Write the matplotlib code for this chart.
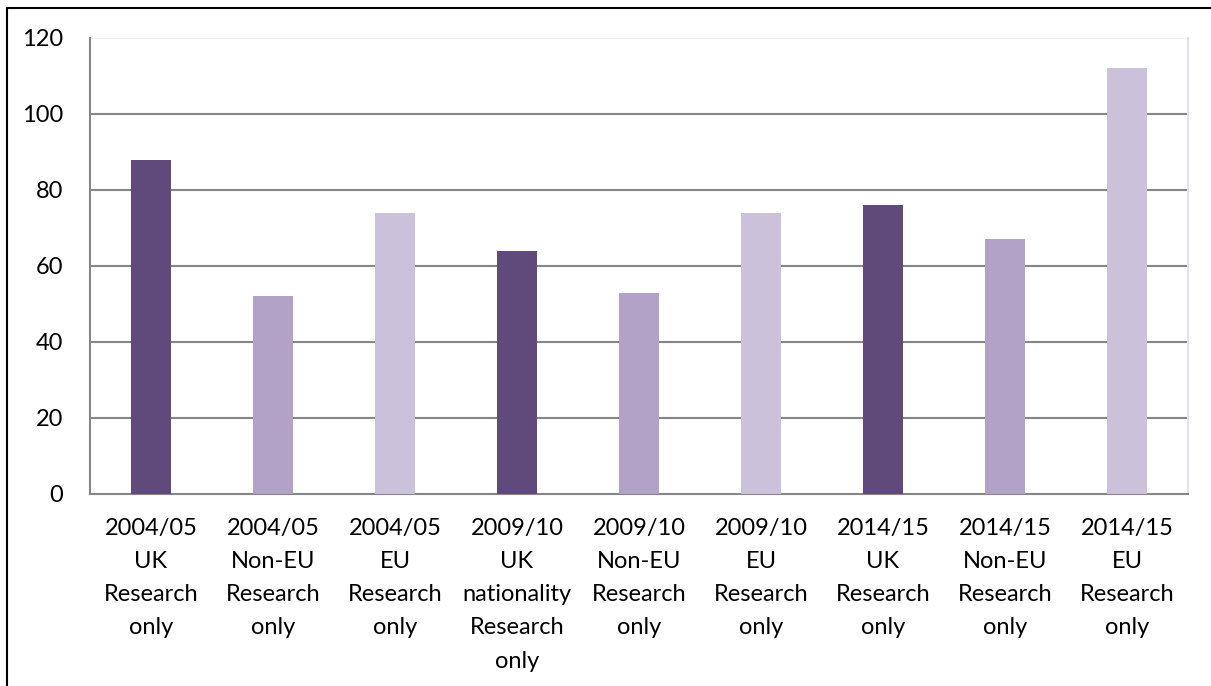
import matplotlib
matplotlib.use("Agg")
from matplotlib import pyplot as plt
from matplotlib.lines import Line2D

categories = ["2004/05\nUK\nResearch\nonly", "2004/05\nNon-EU\nResearch\nonly",
              "2004/05\nEU\nResearch\nonly", "2009/10\nUK\nnationality\nResearch\nonly",
              "2009/10\nNon-EU\nResearch\nonly", "2009/10\nEU\nResearch\nonly",
              "2014/15\nUK\nResearch\nonly", "2014/15\nNon-EU\nResearch\nonly",
              "2014/15\nEU\nResearch\nonly"]
values = [88, 52, 74, 64, 53, 74, 76, 67, 112]
yticks = [0, 20, 40, 60, 80, 100, 120]

clrs = ["#604A7B", "#B3A2C7", "#CCC1DA"] * 3

plt.rcParams['font.family'] = ['Lato', 'DejaVu Sans']

fig = plt.figure(figsize=(12.11, 6.86), dpi=100)
ax = fig.add_axes([90/1211, 1 - 494/686, (1188-90)/1211, (494-38)/686])

x = list(range(len(categories)))
ax.bar(x, values, width=0.32, color=clrs, zorder=3)

ax.set_xlim(-0.5, len(categories) - 0.5)
ax.set_ylim(0, 120)
ax.set_yticks(yticks)
ax.tick_params(axis='y', length=0, pad=19.5, labelsize=17)
ax.set_xticks(x)
ax.set_xticklabels(categories, fontsize=17, linespacing=1.72)
ax.tick_params(axis='x', length=0, pad=17)

for v in yticks[1:-1]:
    ax.axhline(v, color="#868686", lw=1.5, zorder=1)
ax.axhline(120, color="#EDEDED", lw=1.2, zorder=1)

ax.spines["top"].set_visible(False)
ax.spines["left"].set_color("#868686")
ax.spines["left"].set_linewidth(1.5)
ax.spines["bottom"].set_color("#868686")
ax.spines["bottom"].set_linewidth(1.5)
ax.spines["right"].set_color("#DCE3F2")
ax.spines["right"].set_linewidth(1.5)

# outer frame (left and top visible)
fig.add_artist(Line2D([7/1211, 7/1211], [0, 1 - 8/686], color="black", lw=1.5, transform=fig.transFigure))
fig.add_artist(Line2D([7/1211, 1], [1 - 8/686, 1 - 8/686], color="black", lw=1.5, transform=fig.transFigure))

plt.savefig("out.png", dpi=100)
